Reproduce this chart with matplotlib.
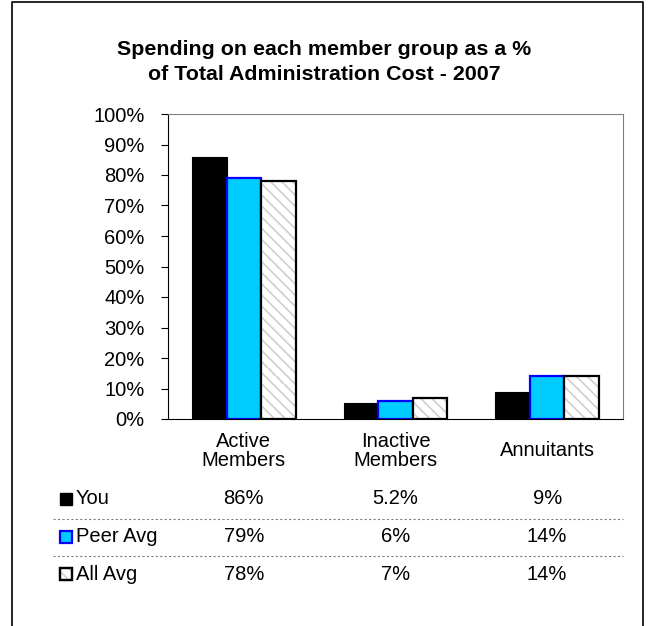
import matplotlib
matplotlib.use("Agg")
import matplotlib.pyplot as plt
import numpy as np
from matplotlib.patches import Rectangle
from matplotlib.lines import Line2D

plt.rcParams['font.family'] = ['Liberation Sans', 'DejaVu Sans']
plt.rcParams['hatch.linewidth'] = 1.2

categories = ["Active\nMembers", "Inactive\nMembers", "Annuitants"]
series = ["You", "Peer Avg", "All Avg"]
you = [86, 5.2, 9]
peer_avg = [79, 6, 14]
all_avg = [78, 7, 14]
value_labels = [["86%", "5.2%", "9%"],
                ["79%", "6%", "14%"],
                ["78%", "7%", "14%"]]
yticks = list(range(0, 101, 10))

W, H = 649, 626
fig = plt.figure(figsize=(W / 100, H / 100), dpi=100)

# plot area in pixel coordinates
x0, x1, ytop, ybot = 168, 623, 114, 419
ax = fig.add_axes([x0 / W, 1 - ybot / H, (x1 - x0) / W, (ybot - ytop) / H])

x = np.arange(len(categories))
bw = 0.228
hatch_grey = "#cfcfcf"
ax.bar(x - bw, you, bw, color="black", edgecolor="black", linewidth=0.8)
ax.bar(x, peer_avg, bw, color="#00ccff", edgecolor="#0000ff", linewidth=1.6)
ax.bar(x + bw, all_avg, bw, color="white", edgecolor=hatch_grey, hatch="\\\\\\", linewidth=0)
ax.bar(x + bw, all_avg, bw, fill=False, edgecolor="black", linewidth=1.6)

ax.set_xlim(-0.5, len(categories) - 0.5)
ax.set_ylim(0, 100)
ax.set_yticks(yticks)
ax.set_yticklabels([f"{t}%" for t in yticks], fontsize=14.5)
ax.tick_params(axis="y", length=5, width=0.8, direction="out", pad=12)
ax.set_xticks([])
for side in ["top", "right"]:
    ax.spines[side].set_color("#808080")
for side in ["left", "bottom"]:
    ax.spines[side].set_color("black")

# category labels under the bars
for i, c in enumerate(categories):
    fig.text((x0 + (i + 0.5) * (x1 - x0) / 3) / W, 1 - 451 / H, c,
             ha="center", va="center", fontsize=14.5, linespacing=1.0)

# title
fig.text(324 / W, 1 - 62 / H,
         "Spending on each member group as a %\nof Total Administration Cost - 2007",
         ha="center", va="center", fontsize=15.4, fontweight="bold", linespacing=1.42)

# data table below the chart
row_y = [499, 537, 574]
key_styles = [dict(facecolor="black", edgecolor="black", lw=1),
              dict(facecolor="#00ccff", edgecolor="#0000ff", lw=1.6),
              dict(facecolor="white", edgecolor="black", lw=1.6)]
for r, name in enumerate(series):
    yc = row_y[r]
    st = key_styles[r]
    fig.patches.append(Rectangle((60 / W, 1 - (yc + 6) / H), 12 / W, 12 / H,
                                 transform=fig.transFigure, figure=fig,
                                 facecolor=st["facecolor"], edgecolor=st["edgecolor"],
                                 linewidth=st["lw"]))
    if r == 2:
        fig.patches.append(Rectangle((60 / W, 1 - (yc + 6) / H), 12 / W, 12 / H,
                                     transform=fig.transFigure, figure=fig,
                                     facecolor="none", edgecolor=hatch_grey,
                                     hatch="\\\\\\", linewidth=0))
        fig.patches.append(Rectangle((60 / W, 1 - (yc + 6) / H), 12 / W, 12 / H,
                                     transform=fig.transFigure, figure=fig,
                                     fill=False, edgecolor="black", linewidth=1.6))
    fig.text(76 / W, 1 - yc / H, name, ha="left", va="center", fontsize=14.5)
    for i in range(len(categories)):
        fig.text((x0 + (i + 0.5) * (x1 - x0) / 3) / W, 1 - yc / H, value_labels[r][i],
                 ha="center", va="center", fontsize=14.5)

for ys in [519, 556]:
    fig.add_artist(Line2D([53 / W, x1 / W], [1 - ys / H, 1 - ys / H],
                          transform=fig.transFigure, color="#808080",
                          linewidth=0.8, linestyle=(0, (2, 2))))

# outer frame (open at the bottom)
fig.add_artist(Line2D([12 / W, 12 / W, 643 / W, 643 / W], [0, 1 - 1.5 / H, 1 - 1.5 / H, 0],
                      transform=fig.transFigure, color="black", linewidth=1.2))

fig.savefig("out.png", dpi=100)
